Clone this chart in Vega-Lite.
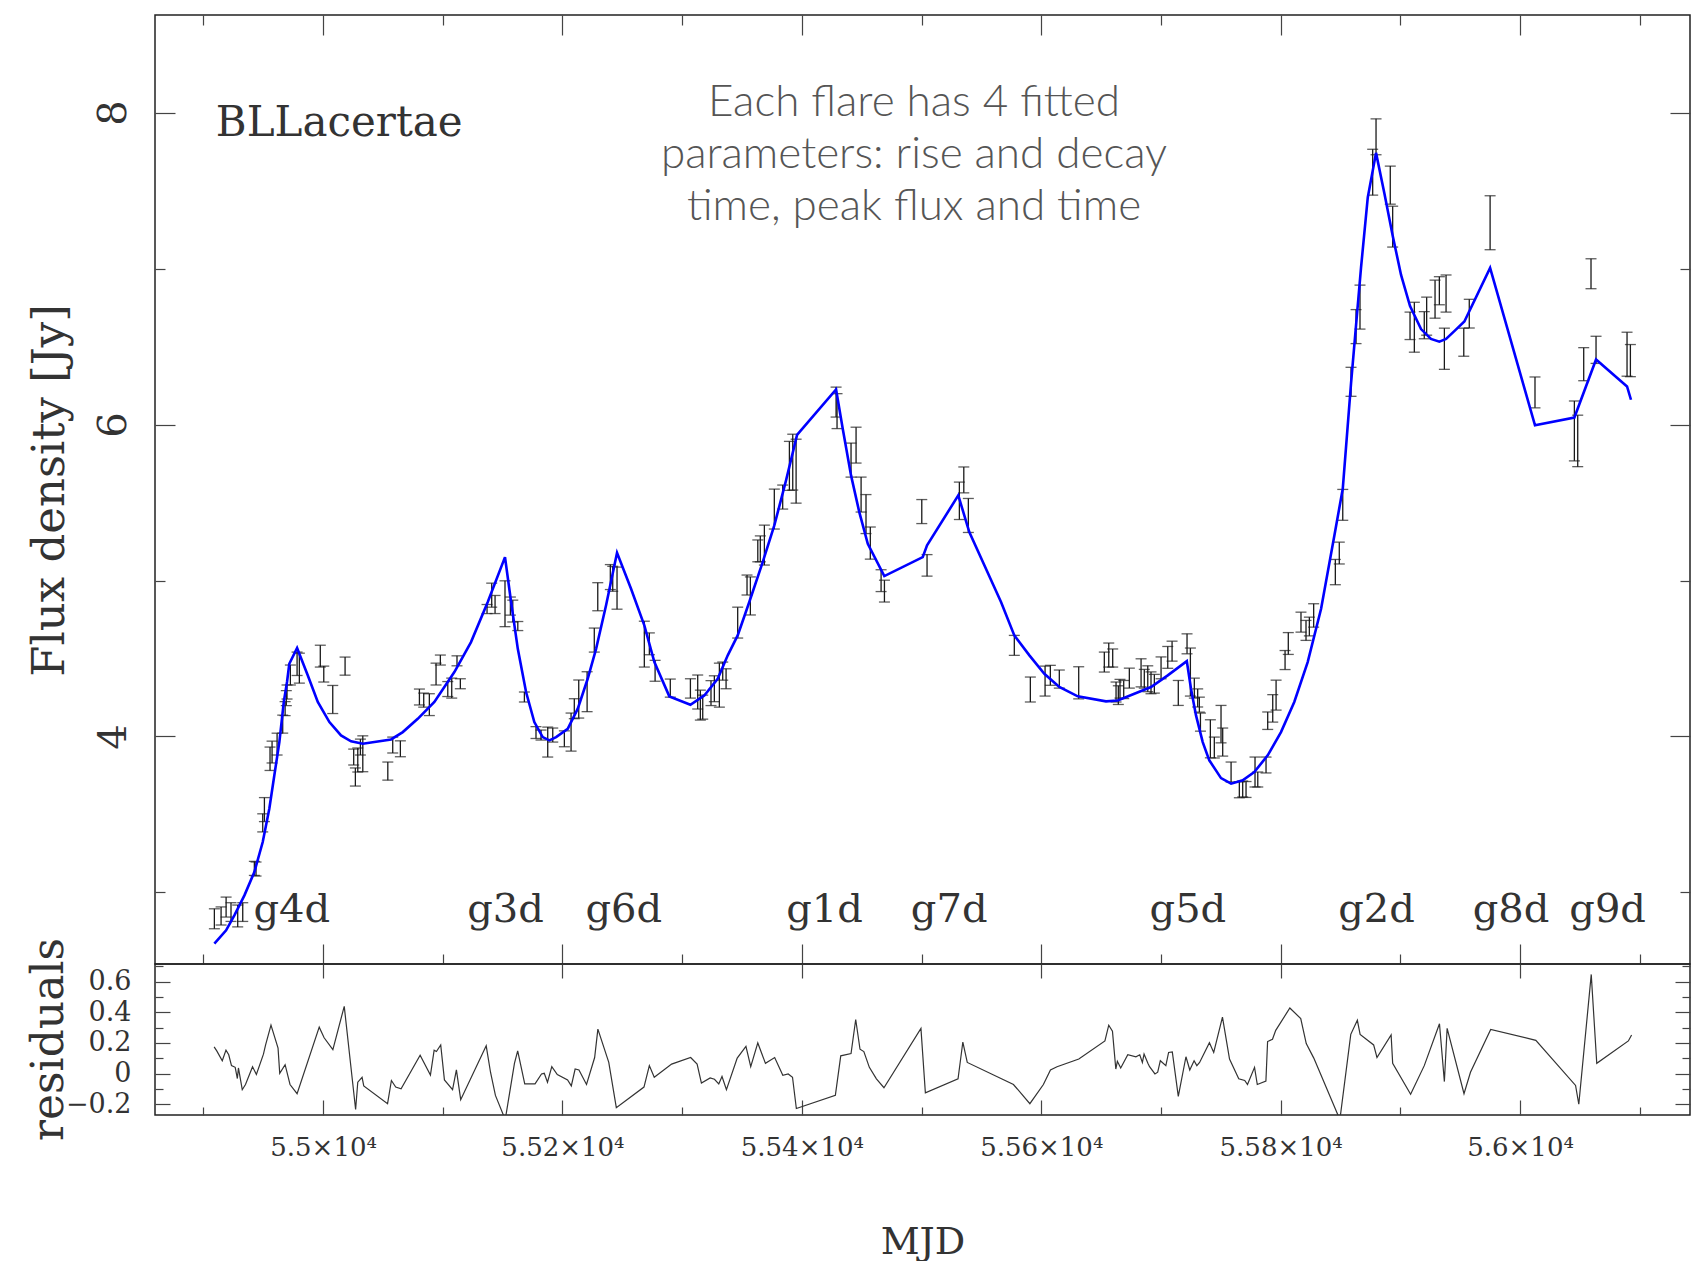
{
  "$schema": "https://vega.github.io/schema/vega-lite/v6.json",
  "background": "white",
  "padding": {"left": 26, "top": 13, "right": 5, "bottom": 5},
  "bounds": "flush",
  "spacing": 0,
  "config": {
    "view": {"stroke": "#222", "strokeWidth": 1.5},
    "axis": {"labelFont": "DejaVu Serif", "titleFont": "DejaVu Serif", "titleFontWeight": "normal", "grid": false, "domain": false}
  },
  "datasets": {
    "obs": [
      {"mjd": 54909.2, "flux": 2.831, "err": 0.064}, {"mjd": 54914.8, "flux": 2.849, "err": 0.058}, {"mjd": 54919.0, "flux": 2.906, "err": 0.064},
      {"mjd": 54923.1, "flux": 2.874, "err": 0.06}, {"mjd": 54928.7, "flux": 2.849, "err": 0.07}, {"mjd": 54932.9, "flux": 2.874, "err": 0.06},
      {"mjd": 54942.6, "flux": 3.154, "err": 0.045}, {"mjd": 54944.0, "flux": 3.15, "err": 0.045}, {"mjd": 54949.6, "flux": 3.446, "err": 0.058},
      {"mjd": 54951.0, "flux": 3.531, "err": 0.077}, {"mjd": 54955.7, "flux": 3.857, "err": 0.075}, {"mjd": 54957.4, "flux": 3.9, "err": 0.07},
      {"mjd": 54961.6, "flux": 3.951, "err": 0.07}, {"mjd": 54966.3, "flux": 4.079, "err": 0.058}, {"mjd": 54968.3, "flux": 4.178, "err": 0.045},
      {"mjd": 54969.3, "flux": 4.246, "err": 0.048}, {"mjd": 54969.9, "flux": 4.285, "err": 0.045}, {"mjd": 54972.7, "flux": 4.394, "err": 0.064},
      {"mjd": 54978.3, "flux": 4.466, "err": 0.075}, {"mjd": 54980.2, "flux": 4.438, "err": 0.096}, {"mjd": 54997.7, "flux": 4.515, "err": 0.07},
      {"mjd": 55000.6, "flux": 4.4, "err": 0.051}, {"mjd": 55008.1, "flux": 4.237, "err": 0.09}, {"mjd": 55018.4, "flux": 4.451, "err": 0.058},
      {"mjd": 55025.6, "flux": 3.868, "err": 0.051}, {"mjd": 55027.0, "flux": 3.74, "err": 0.058}, {"mjd": 55029.0, "flux": 3.849, "err": 0.077},
      {"mjd": 55031.2, "flux": 3.932, "err": 0.051}, {"mjd": 55033.2, "flux": 3.889, "err": 0.115}, {"mjd": 55054.1, "flux": 3.778, "err": 0.058},
      {"mjd": 55058.2, "flux": 3.945, "err": 0.051}, {"mjd": 55064.6, "flux": 3.921, "err": 0.051}, {"mjd": 55080.5, "flux": 4.253, "err": 0.051},
      {"mjd": 55084.1, "flux": 4.233, "err": 0.045}, {"mjd": 55088.8, "flux": 4.204, "err": 0.07}, {"mjd": 55094.4, "flux": 4.4, "err": 0.07},
      {"mjd": 55098.0, "flux": 4.49, "err": 0.032}, {"mjd": 55104.2, "flux": 4.304, "err": 0.048}, {"mjd": 55107.5, "flux": 4.31, "err": 0.064},
      {"mjd": 55111.9, "flux": 4.485, "err": 0.032}, {"mjd": 55114.7, "flux": 4.338, "err": 0.032}, {"mjd": 55137.0, "flux": 4.817, "err": 0.029},
      {"mjd": 55140.9, "flux": 4.906, "err": 0.077}, {"mjd": 55143.7, "flux": 4.846, "err": 0.058}, {"mjd": 55152.0, "flux": 4.851, "err": 0.147},
      {"mjd": 55156.5, "flux": 4.836, "err": 0.058}, {"mjd": 55158.5, "flux": 4.804, "err": 0.07}, {"mjd": 55162.7, "flux": 4.708, "err": 0.029},
      {"mjd": 55168.2, "flux": 4.253, "err": 0.032}, {"mjd": 55177.9, "flux": 4.025, "err": 0.038}, {"mjd": 55182.1, "flux": 4.009, "err": 0.032},
      {"mjd": 55187.7, "flux": 3.964, "err": 0.096}, {"mjd": 55191.9, "flux": 4.009, "err": 0.045},
      {"mjd": 55201.6, "flux": 3.985, "err": 0.051}, {"mjd": 55207.2, "flux": 4.028, "err": 0.122}, {"mjd": 55209.9, "flux": 4.178, "err": 0.064},
      {"mjd": 55213.6, "flux": 4.24, "err": 0.122}, {"mjd": 55220.6, "flux": 4.287, "err": 0.128}, {"mjd": 55226.6, "flux": 4.618, "err": 0.077},
      {"mjd": 55229.5, "flux": 4.896, "err": 0.09}, {"mjd": 55240.0, "flux": 5.022, "err": 0.08}, {"mjd": 55242.0, "flux": 5.011, "err": 0.08},
      {"mjd": 55245.6, "flux": 4.951, "err": 0.135}, {"mjd": 55268.4, "flux": 4.592, "err": 0.147}, {"mjd": 55272.6, "flux": 4.594, "err": 0.07},
      {"mjd": 55277.4, "flux": 4.421, "err": 0.067}, {"mjd": 55290.1, "flux": 4.31, "err": 0.058}, {"mjd": 55306.9, "flux": 4.308, "err": 0.062},
      {"mjd": 55313.0, "flux": 4.285, "err": 0.109}, {"mjd": 55315.2, "flux": 4.201, "err": 0.096}, {"mjd": 55317.2, "flux": 4.188, "err": 0.077},
      {"mjd": 55324.1, "flux": 4.278, "err": 0.08}, {"mjd": 55326.9, "flux": 4.306, "err": 0.083}, {"mjd": 55331.1, "flux": 4.329, "err": 0.141},
      {"mjd": 55333.9, "flux": 4.419, "err": 0.058}, {"mjd": 55336.7, "flux": 4.37, "err": 0.064}, {"mjd": 55346.4, "flux": 4.73, "err": 0.099},
      {"mjd": 55354.2, "flux": 4.971, "err": 0.064}, {"mjd": 55357.0, "flux": 4.901, "err": 0.122}, {"mjd": 55363.2, "flux": 5.19, "err": 0.07},
      {"mjd": 55365.3, "flux": 5.203, "err": 0.083}, {"mjd": 55368.7, "flux": 5.227, "err": 0.128}, {"mjd": 55377.0, "flux": 5.458, "err": 0.128},
      {"mjd": 55384.0, "flux": 5.535, "err": 0.077}, {"mjd": 55389.6, "flux": 5.735, "err": 0.157}, {"mjd": 55392.4, "flux": 5.759, "err": 0.179},
      {"mjd": 55395.2, "flux": 5.701, "err": 0.205}, {"mjd": 55428.6, "flux": 6.144, "err": 0.096}, {"mjd": 55429.4, "flux": 6.086, "err": 0.112},
      {"mjd": 55441.1, "flux": 5.772, "err": 0.109}, {"mjd": 55445.3, "flux": 5.868, "err": 0.115}, {"mjd": 55449.5, "flux": 5.551, "err": 0.112},
      {"mjd": 55453.6, "flux": 5.426, "err": 0.125}, {"mjd": 55457.2, "flux": 5.24, "err": 0.103}, {"mjd": 55466.2, "flux": 4.999, "err": 0.07},
      {"mjd": 55469.0, "flux": 4.932, "err": 0.07}, {"mjd": 55500.2, "flux": 5.442, "err": 0.077}, {"mjd": 55504.6, "flux": 5.097, "err": 0.069},
      {"mjd": 55531.6, "flux": 5.511, "err": 0.12}, {"mjd": 55535.3, "flux": 5.645, "err": 0.083}, {"mjd": 55539.1, "flux": 5.417, "err": 0.109},
      {"mjd": 55577.5, "flux": 4.584, "err": 0.064}, {"mjd": 55590.9, "flux": 4.301, "err": 0.08}, {"mjd": 55603.2, "flux": 4.355, "err": 0.096},
      {"mjd": 55607.6, "flux": 4.392, "err": 0.064}, {"mjd": 55615.1, "flux": 4.368, "err": 0.058}, {"mjd": 55631.3, "flux": 4.344, "err": 0.103},
      {"mjd": 55652.7, "flux": 4.477, "err": 0.064}, {"mjd": 55656.4, "flux": 4.522, "err": 0.077}, {"mjd": 55659.7, "flux": 4.503, "err": 0.058},
      {"mjd": 55662.5, "flux": 4.285, "err": 0.064}, {"mjd": 55664.4, "flux": 4.265, "err": 0.06}, {"mjd": 55665.8, "flux": 4.306, "err": 0.06},
      {"mjd": 55668.9, "flux": 4.301, "err": 0.058}, {"mjd": 55673.6, "flux": 4.374, "err": 0.064}, {"mjd": 55683.4, "flux": 4.408, "err": 0.09},
      {"mjd": 55686.1, "flux": 4.37, "err": 0.06}, {"mjd": 55689.0, "flux": 4.37, "err": 0.083}, {"mjd": 55691.7, "flux": 4.344, "err": 0.07},
      {"mjd": 55694.5, "flux": 4.338, "err": 0.06}, {"mjd": 55700.1, "flux": 4.44, "err": 0.07}, {"mjd": 55705.7, "flux": 4.507, "err": 0.07},
      {"mjd": 55709.3, "flux": 4.547, "err": 0.064}, {"mjd": 55714.5, "flux": 4.279, "err": 0.08}, {"mjd": 55721.8, "flux": 4.594, "err": 0.064},
      {"mjd": 55724.6, "flux": 4.413, "err": 0.154}, {"mjd": 55727.9, "flux": 4.31, "err": 0.064}, {"mjd": 55730.7, "flux": 4.247, "err": 0.058},
      {"mjd": 55732.1, "flux": 4.204, "err": 0.048}, {"mjd": 55733.0, "flux": 4.092, "err": 0.058}, {"mjd": 55741.3, "flux": 3.985, "err": 0.122},
      {"mjd": 55744.6, "flux": 3.929, "err": 0.067}, {"mjd": 55750.2, "flux": 4.079, "err": 0.12}, {"mjd": 55751.6, "flux": 3.964, "err": 0.09},
      {"mjd": 55758.6, "flux": 3.772, "err": 0.064}, {"mjd": 55765.5, "flux": 3.658, "err": 0.051}, {"mjd": 55768.3, "flux": 3.663, "err": 0.051},
      {"mjd": 55771.1, "flux": 3.66, "err": 0.051}, {"mjd": 55778.6, "flux": 3.772, "err": 0.096}, {"mjd": 55780.9, "flux": 3.724, "err": 0.048},
      {"mjd": 55787.8, "flux": 3.817, "err": 0.051}, {"mjd": 55789.2, "flux": 4.101, "err": 0.056}, {"mjd": 55793.4, "flux": 4.18, "err": 0.088},
      {"mjd": 55796.2, "flux": 4.265, "err": 0.096}, {"mjd": 55803.7, "flux": 4.49, "err": 0.061}, {"mjd": 55806.4, "flux": 4.596, "err": 0.07},
      {"mjd": 55817.0, "flux": 4.733, "err": 0.064}, {"mjd": 55821.2, "flux": 4.68, "err": 0.064}, {"mjd": 55824.0, "flux": 4.705, "err": 0.06},
      {"mjd": 55827.6, "flux": 4.776, "err": 0.075}, {"mjd": 55845.7, "flux": 5.054, "err": 0.081}, {"mjd": 55849.0, "flux": 5.176, "err": 0.07},
      {"mjd": 55851.9, "flux": 5.485, "err": 0.099},
      {"mjd": 55858.8, "flux": 6.274, "err": 0.093}, {"mjd": 55863.0, "flux": 6.628, "err": 0.109}, {"mjd": 55866.3, "flux": 6.753, "err": 0.141},
      {"mjd": 55876.9, "flux": 7.618, "err": 0.147}, {"mjd": 55879.7, "flux": 7.845, "err": 0.115}, {"mjd": 55891.6, "flux": 7.535, "err": 0.122},
      {"mjd": 55893.6, "flux": 7.269, "err": 0.131}, {"mjd": 55908.1, "flux": 6.633, "err": 0.088}, {"mjd": 55911.7, "flux": 6.624, "err": 0.16},
      {"mjd": 55920.0, "flux": 6.637, "err": 0.087}, {"mjd": 55922.0, "flux": 6.695, "err": 0.122}, {"mjd": 55929.0, "flux": 6.804, "err": 0.122},
      {"mjd": 55932.6, "flux": 6.858, "err": 0.09}, {"mjd": 55936.8, "flux": 6.486, "err": 0.132}, {"mjd": 55938.2, "flux": 6.84, "err": 0.119},
      {"mjd": 55953.0, "flux": 6.528, "err": 0.09}, {"mjd": 55957.6, "flux": 6.711, "err": 0.092}, {"mjd": 55975.0, "flux": 7.294, "err": 0.173},
      {"mjd": 56012.5, "flux": 6.206, "err": 0.099}, {"mjd": 56045.4, "flux": 5.959, "err": 0.192}, {"mjd": 56048.2, "flux": 5.895, "err": 0.165},
      {"mjd": 56053.2, "flux": 6.387, "err": 0.106}, {"mjd": 56059.3, "flux": 6.967, "err": 0.096}, {"mjd": 56063.5, "flux": 6.479, "err": 0.087},
      {"mjd": 56089.4, "flux": 6.451, "err": 0.141}, {"mjd": 56092.2, "flux": 6.41, "err": 0.103}
    ],
    "model": [
      {"mjd": 54909.2, "flux": 2.671}, {"mjd": 54919.0, "flux": 2.757}, {"mjd": 54925.9, "flux": 2.853}, {"mjd": 54934.3, "flux": 2.981},
      {"mjd": 54942.6, "flux": 3.131}, {"mjd": 54949.6, "flux": 3.323}, {"mjd": 54955.1, "flux": 3.537}, {"mjd": 54959.3, "flux": 3.751},
      {"mjd": 54963.5, "flux": 3.964}, {"mjd": 54967.2, "flux": 4.221}, {"mjd": 54969.9, "flux": 4.349}, {"mjd": 54971.8, "flux": 4.466},
      {"mjd": 54978.3, "flux": 4.567}, {"mjd": 54987.2, "flux": 4.392}, {"mjd": 54995.6, "flux": 4.221}, {"mjd": 55005.3, "flux": 4.092},
      {"mjd": 55015.0, "flux": 4.007}, {"mjd": 55023.4, "flux": 3.969}, {"mjd": 55033.2, "flux": 3.953}, {"mjd": 55056.8, "flux": 3.981},
      {"mjd": 55066.6, "flux": 4.028}, {"mjd": 55079.1, "flux": 4.113}, {"mjd": 55093.0, "flux": 4.221}, {"mjd": 55109.7, "flux": 4.413},
      {"mjd": 55123.6, "flux": 4.605}, {"mjd": 55137.6, "flux": 4.862}, {"mjd": 55152.0, "flux": 5.15}, {"mjd": 55157.1, "flux": 4.862},
      {"mjd": 55162.7, "flux": 4.562}, {"mjd": 55169.6, "flux": 4.285}, {"mjd": 55176.5, "flux": 4.092}, {"mjd": 55183.5, "flux": 3.996},
      {"mjd": 55189.1, "flux": 3.975}, {"mjd": 55194.7, "flux": 3.996}, {"mjd": 55204.4, "flux": 4.049}, {"mjd": 55212.8, "flux": 4.178},
      {"mjd": 55221.1, "flux": 4.37}, {"mjd": 55228.1, "flux": 4.562}, {"mjd": 55236.4, "flux": 4.84}, {"mjd": 55245.6, "flux": 5.178},
      {"mjd": 55257.3, "flux": 4.947}, {"mjd": 55268.4, "flux": 4.712}, {"mjd": 55276.8, "flux": 4.477}, {"mjd": 55289.3, "flux": 4.257},
      {"mjd": 55306.9, "flux": 4.203}, {"mjd": 55318.5, "flux": 4.263}, {"mjd": 55329.7, "flux": 4.37}, {"mjd": 55338.1, "flux": 4.52},
      {"mjd": 55346.4, "flux": 4.648}, {"mjd": 55356.1, "flux": 4.862}, {"mjd": 55367.3, "flux": 5.118}, {"mjd": 55377.0, "flux": 5.353},
      {"mjd": 55386.8, "flux": 5.642}, {"mjd": 55396.0, "flux": 5.934}, {"mjd": 55428.6, "flux": 6.225}, {"mjd": 55434.2, "flux": 5.972},
      {"mjd": 55441.1, "flux": 5.674}, {"mjd": 55448.0, "flux": 5.438}, {"mjd": 55455.1, "flux": 5.235}, {"mjd": 55468.9, "flux": 5.028},
      {"mjd": 55501.0, "flux": 5.15}, {"mjd": 55504.6, "flux": 5.225}, {"mjd": 55530.7, "flux": 5.546}, {"mjd": 55539.9, "flux": 5.31},
      {"mjd": 55566.4, "flux": 4.862}, {"mjd": 55577.5, "flux": 4.648}, {"mjd": 55590.1, "flux": 4.52}, {"mjd": 55602.6, "flux": 4.402},
      {"mjd": 55615.1, "flux": 4.317}, {"mjd": 55630.5, "flux": 4.257}, {"mjd": 55654.1, "flux": 4.225}, {"mjd": 55663.9, "flux": 4.231},
      {"mjd": 55677.8, "flux": 4.274}, {"mjd": 55691.7, "flux": 4.317}, {"mjd": 55705.7, "flux": 4.392}, {"mjd": 55721.6, "flux": 4.483},
      {"mjd": 55725.1, "flux": 4.306}, {"mjd": 55729.3, "flux": 4.135}, {"mjd": 55734.9, "flux": 3.964}, {"mjd": 55740.4, "flux": 3.847},
      {"mjd": 55750.2, "flux": 3.733}, {"mjd": 55758.6, "flux": 3.697}, {"mjd": 55768.3, "flux": 3.719}, {"mjd": 55778.0, "flux": 3.772},
      {"mjd": 55789.2, "flux": 3.879}, {"mjd": 55800.3, "flux": 4.028}, {"mjd": 55811.4, "flux": 4.221}, {"mjd": 55822.6, "flux": 4.477},
      {"mjd": 55833.8, "flux": 4.819}, {"mjd": 55844.9, "flux": 5.289}, {"mjd": 55851.9, "flux": 5.588}, {"mjd": 55858.8, "flux": 6.263},
      {"mjd": 55867.2, "flux": 7.009}, {"mjd": 55872.8, "flux": 7.456}, {"mjd": 55879.7, "flux": 7.742}, {"mjd": 55886.7, "flux": 7.481},
      {"mjd": 55893.7, "flux": 7.208}, {"mjd": 55900.6, "flux": 6.959}, {"mjd": 55908.1, "flux": 6.76}, {"mjd": 55917.3, "flux": 6.612},
      {"mjd": 55925.6, "flux": 6.549}, {"mjd": 55932.6, "flux": 6.531}, {"mjd": 55938.2, "flux": 6.549}, {"mjd": 55945.1, "flux": 6.599},
      {"mjd": 55953.5, "flux": 6.661}, {"mjd": 55975.0, "flux": 7.004}, {"mjd": 56012.5, "flux": 5.995}, {"mjd": 56045.4, "flux": 6.045},
      {"mjd": 56063.5, "flux": 6.417}, {"mjd": 56089.4, "flux": 6.244}, {"mjd": 56092.7, "flux": 6.159}
    ],
    "resid": [
      {"mjd": 54909.0, "res": 0.174}, {"mjd": 54911.2, "res": 0.148}, {"mjd": 54915.8, "res": 0.084}, {"mjd": 54918.9, "res": 0.153},
      {"mjd": 54921.2, "res": 0.123}, {"mjd": 54923.5, "res": 0.052}, {"mjd": 54926.6, "res": 0.041}, {"mjd": 54928.4, "res": -0.032},
      {"mjd": 54929.3, "res": 0.037}, {"mjd": 54932.5, "res": -0.105}, {"mjd": 54935.2, "res": -0.071}, {"mjd": 54941.1, "res": 0.045},
      {"mjd": 54944.3, "res": -0.006}, {"mjd": 54950.2, "res": 0.127}, {"mjd": 54952.0, "res": 0.187}, {"mjd": 54956.5, "res": 0.316},
      {"mjd": 54962.4, "res": 0.166}, {"mjd": 54963.8, "res": 0.002}, {"mjd": 54968.3, "res": 0.058}, {"mjd": 54972.4, "res": -0.071},
      {"mjd": 54978.3, "res": -0.131}, {"mjd": 54996.8, "res": 0.303}, {"mjd": 55000.9, "res": 0.234}, {"mjd": 55008.2, "res": 0.157},
      {"mjd": 55017.7, "res": 0.439}, {"mjd": 55027.2, "res": -0.234}, {"mjd": 55029.0, "res": -0.056}, {"mjd": 55032.6, "res": -0.024},
      {"mjd": 55034.0, "res": -0.08}, {"mjd": 55053.9, "res": -0.196}, {"mjd": 55057.1, "res": -0.045}, {"mjd": 55060.7, "res": -0.088},
      {"mjd": 55065.2, "res": -0.099}, {"mjd": 55081.1, "res": 0.12}, {"mjd": 55089.7, "res": -0.009}, {"mjd": 55092.8, "res": 0.153},
      {"mjd": 55094.7, "res": 0.144}, {"mjd": 55098.3, "res": 0.187}, {"mjd": 55101.4, "res": -0.041}, {"mjd": 55108.2, "res": -0.105},
      {"mjd": 55111.4, "res": 0.024}, {"mjd": 55115.0, "res": -0.17}, {"mjd": 55136.3, "res": 0.181}, {"mjd": 55139.9, "res": 0.009},
      {"mjd": 55144.0, "res": -0.142}, {"mjd": 55152.2, "res": -0.3}, {"mjd": 55159.9, "res": 0.067}, {"mjd": 55162.6, "res": 0.148},
      {"mjd": 55168.5, "res": -0.067}, {"mjd": 55177.1, "res": -0.067}, {"mjd": 55182.5, "res": -0.002}, {"mjd": 55184.8, "res": 0.002},
      {"mjd": 55187.5, "res": -0.056}, {"mjd": 55191.1, "res": 0.045}, {"mjd": 55195.7, "res": -0.006}, {"mjd": 55204.3, "res": -0.041},
      {"mjd": 55207.4, "res": -0.08}, {"mjd": 55210.6, "res": 0.03}, {"mjd": 55213.8, "res": 0.024}, {"mjd": 55220.1, "res": -0.071},
      {"mjd": 55226.9, "res": 0.105}, {"mjd": 55229.6, "res": 0.29}, {"mjd": 55238.7, "res": 0.073}, {"mjd": 55245.0, "res": -0.222},
      {"mjd": 55268.1, "res": -0.088}, {"mjd": 55272.6, "res": 0.052}, {"mjd": 55276.7, "res": -0.024}, {"mjd": 55291.2, "res": 0.062},
      {"mjd": 55307.1, "res": 0.105}, {"mjd": 55312.5, "res": 0.062}, {"mjd": 55316.1, "res": -0.062}, {"mjd": 55323.4, "res": -0.028},
      {"mjd": 55327.0, "res": -0.037}, {"mjd": 55330.6, "res": -0.067}, {"mjd": 55333.3, "res": -0.019}, {"mjd": 55337.0, "res": -0.105},
      {"mjd": 55346.0, "res": 0.101}, {"mjd": 55353.3, "res": 0.178}, {"mjd": 55357.3, "res": 0.045}, {"mjd": 55363.2, "res": 0.2},
      {"mjd": 55369.6, "res": 0.067}, {"mjd": 55377.3, "res": 0.105}, {"mjd": 55384.1, "res": -0.011}, {"mjd": 55388.6, "res": -0.002},
      {"mjd": 55392.2, "res": -0.024}, {"mjd": 55395.4, "res": -0.228}, {"mjd": 55428.0, "res": -0.142}, {"mjd": 55432.5, "res": 0.116},
      {"mjd": 55441.1, "res": 0.131}, {"mjd": 55445.0, "res": 0.353}, {"mjd": 55448.6, "res": 0.159}, {"mjd": 55451.8, "res": 0.144},
      {"mjd": 55456.4, "res": 0.041}, {"mjd": 55462.3, "res": -0.034}, {"mjd": 55468.6, "res": -0.092}, {"mjd": 55499.5, "res": 0.295},
      {"mjd": 55503.2, "res": -0.125}, {"mjd": 55530.5, "res": -0.034}, {"mjd": 55534.5, "res": 0.206}, {"mjd": 55538.2, "res": 0.073},
      {"mjd": 55576.8, "res": -0.071}, {"mjd": 55590.5, "res": -0.196}, {"mjd": 55601.8, "res": -0.071}, {"mjd": 55607.7, "res": 0.024},
      {"mjd": 55613.2, "res": 0.045}, {"mjd": 55631.4, "res": 0.095}, {"mjd": 55653.2, "res": 0.213}, {"mjd": 55656.4, "res": 0.316},
      {"mjd": 55659.5, "res": 0.277}, {"mjd": 55662.3, "res": 0.03}, {"mjd": 55663.6, "res": 0.08}, {"mjd": 55666.4, "res": 0.037},
      {"mjd": 55672.3, "res": 0.123}, {"mjd": 55679.1, "res": 0.11}, {"mjd": 55682.3, "res": 0.123}, {"mjd": 55684.5, "res": 0.073},
      {"mjd": 55685.9, "res": 0.127}, {"mjd": 55689.1, "res": 0.067}, {"mjd": 55690.5, "res": 0.045}, {"mjd": 55695.0, "res": -0.002},
      {"mjd": 55697.3, "res": 0.009}, {"mjd": 55699.5, "res": 0.084}, {"mjd": 55704.1, "res": 0.052}, {"mjd": 55706.4, "res": 0.138},
      {"mjd": 55709.5, "res": 0.142}, {"mjd": 55714.5, "res": -0.148}, {"mjd": 55720.9, "res": 0.11}, {"mjd": 55724.1, "res": 0.024},
      {"mjd": 55727.7, "res": 0.084}, {"mjd": 55730.0, "res": 0.052}, {"mjd": 55732.3, "res": 0.073}, {"mjd": 55740.5, "res": 0.202},
      {"mjd": 55744.1, "res": 0.138}, {"mjd": 55751.4, "res": 0.368}, {"mjd": 55757.3, "res": 0.095}, {"mjd": 55765.0, "res": -0.034},
      {"mjd": 55770.0, "res": -0.045}, {"mjd": 55772.3, "res": -0.071}, {"mjd": 55778.2, "res": 0.041}, {"mjd": 55780.5, "res": -0.071},
      {"mjd": 55787.7, "res": -0.049}, {"mjd": 55789.1, "res": 0.209}, {"mjd": 55793.2, "res": 0.224}, {"mjd": 55795.9, "res": 0.282},
      {"mjd": 55807.7, "res": 0.428}, {"mjd": 55816.8, "res": 0.359}, {"mjd": 55821.4, "res": 0.196}, {"mjd": 55827.7, "res": 0.101},
      {"mjd": 55849.5, "res": -0.3}, {"mjd": 55858.6, "res": 0.256}, {"mjd": 55864.1, "res": 0.348}, {"mjd": 55866.4, "res": 0.256},
      {"mjd": 55877.7, "res": 0.187}, {"mjd": 55880.5, "res": 0.105}, {"mjd": 55892.3, "res": 0.252}, {"mjd": 55893.6, "res": 0.067},
      {"mjd": 55908.6, "res": -0.135}, {"mjd": 55920.0, "res": 0.052}, {"mjd": 55932.7, "res": 0.325}, {"mjd": 55936.8, "res": -0.052},
      {"mjd": 55939.1, "res": 0.295}, {"mjd": 55953.2, "res": -0.131}, {"mjd": 55958.6, "res": 0.009}, {"mjd": 55975.5, "res": 0.288},
      {"mjd": 56013.2, "res": 0.217}, {"mjd": 56046.4, "res": -0.077}, {"mjd": 56049.1, "res": -0.2}, {"mjd": 56059.5, "res": 0.647},
      {"mjd": 56064.1, "res": 0.067}, {"mjd": 56090.5, "res": 0.213}, {"mjd": 56093.2, "res": 0.252}
    ],
    "flares": [
      {"label": "g4d", "mjd": 54973.9}, {"label": "g3d", "mjd": 55152.4}, {"label": "g6d", "mjd": 55251.2},
      {"label": "g1d", "mjd": 55418.9}, {"label": "g7d", "mjd": 55523.1}, {"label": "g5d", "mjd": 55722.5},
      {"label": "g2d", "mjd": 55880.1}, {"label": "g8d", "mjd": 55992.5}, {"label": "g9d", "mjd": 56073.2}
    ],
    "notes": [
      {"source": "BLLacertae", "mjd": 54910.4, "flux": 7.85}
    ],
    "caption": [
      {"mjd": 55493.7, "flux": 8.06}
    ]
  },
  "vconcat": [
    {
      "width": 1535,
      "height": 949,
      "resolve": {"axis": {"x": "independent", "y": "independent"}},
      "layer": [
        {
          "data": {"name": "obs"},
          "mark": {"type": "errorbar", "ticks": true, "size": 11, "thickness": 1.3, "color": "#1a1a1a"},
          "encoding": {
            "x": {"field": "mjd", "type": "quantitative", "scale": {"domain": [54859.6, 56142], "nice": false, "zero": false},
              "axis": {"orient": "bottom", "values": [54900, 55000, 55100, 55200, 55300, 55400, 55500, 55600, 55700, 55800, 55900, 56000, 56100],
                "labels": false, "title": null, "tickColor": "#444", "tickWidth": 1.2,
                "tickSize": {"condition": {"test": "datum.value % 200 === 0", "value": -20}, "value": -10}}},
            "y": {"field": "flux", "type": "quantitative", "scale": {"domain": [2.541, 8.626], "nice": false, "zero": false},
              "axis": {"orient": "left", "values": [3, 4, 5, 6, 7, 8], "format": "d", "tickColor": "#444", "tickWidth": 1.2,
                "tickSize": {"condition": {"test": "datum.value % 2 === 0", "value": -20}, "value": -10},
                "labelExpr": "datum.value % 2 === 0 ? datum.label : ''",
                "labelAngle": -90, "labelAlign": "center", "labelBaseline": "middle", "labelFontSize": 40, "labelColor": "#333",
                "labelPadding": 62, "labelFlush": false, "labelOverlap": false, "labelBound": false,
                "title": "Flux density [Jy]", "titleFontSize": 45, "titleColor": "#333", "titleX": -106, "titleY": 475,
                "titleAngle": -90, "titleAlign": "center", "titleBaseline": "middle"}},
            "yError": {"field": "err"}
          }
        },
        {
          "data": {"name": "model"},
          "mark": {"type": "line", "color": "#0000ff", "strokeWidth": 2.6},
          "encoding": {
            "x": {"field": "mjd", "type": "quantitative", "scale": {"domain": [54859.6, 56142], "nice": false, "zero": false},
              "axis": {"orient": "top", "values": [54900, 55000, 55100, 55200, 55300, 55400, 55500, 55600, 55700, 55800, 55900, 56000, 56100],
                "labels": false, "title": null, "tickColor": "#444", "tickWidth": 1.2,
                "tickSize": {"condition": {"test": "datum.value % 200 === 0", "value": -20}, "value": -10}}},
            "y": {"field": "flux", "type": "quantitative", "scale": {"domain": [2.541, 8.626], "nice": false, "zero": false},
              "axis": {"orient": "right", "values": [3, 4, 5, 6, 7, 8], "labels": false, "title": null, "tickColor": "#444", "tickWidth": 1.2,
                "tickSize": {"condition": {"test": "datum.value % 2 === 0", "value": -20}, "value": -10}}}
          }
        },
        {
          "data": {"name": "flares"},
          "mark": {"type": "text", "font": "DejaVu Serif", "fontSize": 40, "color": "#333", "align": "center", "baseline": "alphabetic"},
          "encoding": {
            "x": {"field": "mjd", "type": "quantitative", "scale": {"domain": [54859.6, 56142], "nice": false, "zero": false}, "axis": null},
            "y": {"datum": 2.81, "type": "quantitative", "scale": {"domain": [2.541, 8.626], "nice": false, "zero": false}, "axis": null},
            "text": {"field": "label"}
          }
        },
        {
          "data": {"name": "notes"},
          "mark": {"type": "text", "font": "DejaVu Serif", "fontSize": 42, "color": "#333", "align": "left", "baseline": "alphabetic"},
          "encoding": {
            "x": {"field": "mjd", "type": "quantitative", "scale": {"domain": [54859.6, 56142], "nice": false, "zero": false}, "axis": null},
            "y": {"field": "flux", "type": "quantitative", "scale": {"domain": [2.541, 8.626], "nice": false, "zero": false}, "axis": null},
            "text": {"field": "source"}
          }
        },
        {
          "data": {"name": "caption"},
          "mark": {"type": "text", "font": "Lato", "fontWeight": 300, "fontSize": 44, "lineHeight": 52, "color": "#555", "align": "center", "baseline": "middle",
            "text": ["Each flare has 4 fitted", "parameters: rise and decay", "time, peak flux and time"]},
          "encoding": {
            "x": {"field": "mjd", "type": "quantitative", "scale": {"domain": [54859.6, 56142], "nice": false, "zero": false}, "axis": null},
            "y": {"field": "flux", "type": "quantitative", "scale": {"domain": [2.541, 8.626], "nice": false, "zero": false}, "axis": null}
          }
        }
      ]
    },
    {
      "width": 1535,
      "height": 151,
      "data": {"name": "resid"},
      "resolve": {"axis": {"x": "independent", "y": "independent"}},
      "layer": [
        {
          "mark": {"type": "line", "color": "#333", "strokeWidth": 1.2, "clip": true},
          "encoding": {
            "x": {"field": "mjd", "type": "quantitative", "scale": {"domain": [54859.6, 56142], "nice": false, "zero": false},
              "axis": {"orient": "bottom", "values": [54900, 55000, 55100, 55200, 55300, 55400, 55500, 55600, 55700, 55800, 55900, 56000, 56100],
                "tickColor": "#444", "tickWidth": 1.2,
                "tickSize": {"condition": {"test": "datum.value % 200 === 0", "value": -15}, "value": -8},
                "labelExpr": "datum.value % 200 === 0 ? toString(datum.value / 10000) + '×10⁴' : ''",
                "labelFontSize": 26, "labelColor": "#333", "labelAlign": "center", "labelBaseline": "alphabetic", "labelPadding": 55,
                "labelFlush": false, "labelOverlap": false, "labelBound": false,
                "title": "MJD", "titleFontSize": 38, "titleColor": "#333", "titleY": 127, "titleBaseline": "middle"}},
            "y": {"field": "res", "type": "quantitative", "scale": {"domain": [-0.27, 0.715], "nice": false, "zero": false},
              "axis": {"orient": "left", "values": [-0.2, -0.1, 0, 0.1, 0.2, 0.3, 0.4, 0.5, 0.6, 0.7], "tickColor": "#444", "tickWidth": 1.2,
                "tickSize": {"condition": {"test": "round(datum.value * 10) % 2 === 0", "value": -15}, "value": -8},
                "labelExpr": "round(datum.value * 10) % 2 === 0 ? (datum.value === 0 ? '0' : replace(format(datum.value, '.1f'), '-', '−')) : ''",
                "labelFontSize": 27, "labelColor": "#333", "labelAlign": "right", "labelBaseline": "middle", "labelPadding": 39,
                "labelFlush": false, "labelOverlap": false, "labelBound": false,
                "title": "residuals", "titleFontSize": 44, "titleColor": "#333", "titleX": -106, "titleY": 75,
                "titleAngle": -90, "titleAlign": "center", "titleBaseline": "middle"}}
          }
        },
        {
          "mark": {"type": "line", "strokeOpacity": 0},
          "encoding": {
            "x": {"field": "mjd", "type": "quantitative", "scale": {"domain": [54859.6, 56142], "nice": false, "zero": false},
              "axis": {"orient": "top", "values": [55000, 55200, 55400, 55600, 55800, 56000], "labels": false, "title": null,
                "tickColor": "#444", "tickWidth": 1.2, "tickSize": -14}},
            "y": {"field": "res", "type": "quantitative", "scale": {"domain": [-0.27, 0.715], "nice": false, "zero": false},
              "axis": {"orient": "right", "values": [-0.2, -0.1, 0, 0.1, 0.2, 0.3, 0.4, 0.5, 0.6, 0.7], "labels": false, "title": null,
                "tickColor": "#444", "tickWidth": 1.2,
                "tickSize": {"condition": {"test": "round(datum.value * 10) % 2 === 0", "value": -15}, "value": -8}}}
          }
        }
      ]
    }
  ]
}
